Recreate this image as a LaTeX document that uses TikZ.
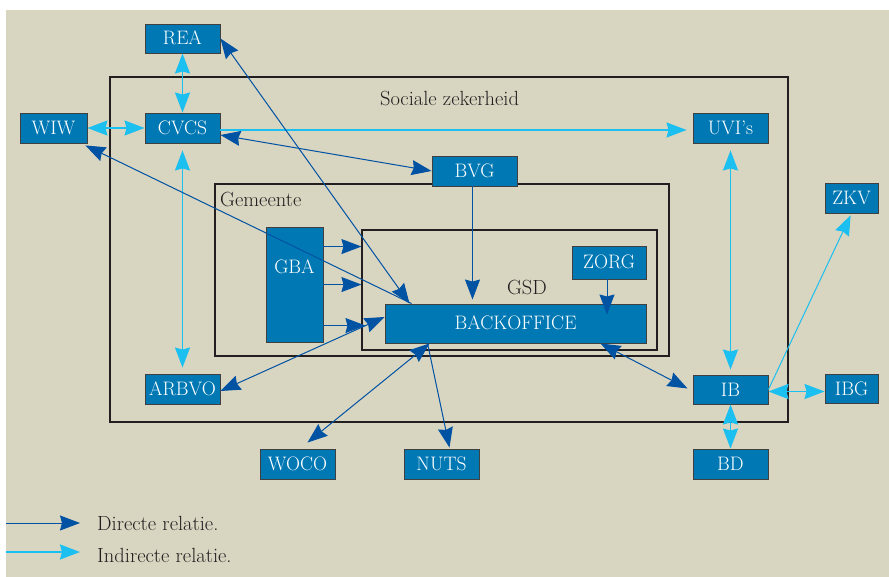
\documentclass[tikz,border=0pt]{standalone}
\usetikzlibrary{arrows.meta,calc}
\definecolor{bg}{HTML}{D8D5C1}
\definecolor{boxfill}{HTML}{0078B4}
\definecolor{dk}{HTML}{0052A3}
\definecolor{lt}{HTML}{1BBFF0}
\definecolor{txt}{HTML}{231F20}
\begin{document}
\begin{tikzpicture}[x=1pt,y=-1pt,
  >={Stealth[length=20pt,width=15pt,inset=2pt]},
  bx/.style={draw=black!75,line width=0.9pt,fill=boxfill,text=white,inner sep=0pt,
    font=\fontsize{19.5}{19.5}\selectfont,text height=13pt,text depth=0pt},
  frm/.style={draw=txt,line width=1.1pt,inner sep=0pt},
  lbl/.style={font=\fontsize{20.5}{20.5}\selectfont,text=txt,inner sep=0pt},
  dir/.style={draw=dk,line width=1pt},
  ind/.style={draw=lt,line width=1.6pt}]
\useasboundingbox (0,0) rectangle (889,577);
\fill[white] (0,0) rectangle (889,577);
\fill[bg] (6,10) rectangle (889,577);
% frames
\node[frm,minimum width=678pt,minimum height=345pt] (szf) at (449,249.5) {};
\node[frm,minimum width=454pt,minimum height=172pt] (gemf) at (442,270) {};
\node[frm,minimum width=295pt,minimum height=120pt] (gsdf) at (509.5,290) {};
\node[lbl,anchor=base] (szl) at (449.5,106) {Sociale zekerheid};
\node[lbl,anchor=base west] (geml) at (220,207) {Gemeente};
\node[lbl,anchor=base] (gsdl) at (527,295) {GSD};
% boxes
\node[bx,minimum width=75pt,minimum height=29pt] (rea) at (182.5,38.5) {REA};
\node[bx,minimum width=67pt,minimum height=30pt] (wiw) at (53.5,128) {WIW};
\node[bx,minimum width=75pt,minimum height=30pt] (cvcs) at (182.5,128) {CVCS};
\node[bx,minimum width=75pt,minimum height=30pt] (uvi) at (730.5,128) {UVI's};
\node[bx,minimum width=85pt,minimum height=30pt] (bvg) at (474.5,171) {BVG};
\node[bx,minimum width=53pt,minimum height=30pt] (zkv) at (851.5,198) {ZKV};
\node[bx,minimum width=57pt,minimum height=115pt] (gba) at (294.5,284.5) {};
\node[text=white,font=\fontsize{19.5}{19.5}\selectfont,inner sep=0pt,text height=13pt,text depth=0pt] (gbat) at (294.5,267) {GBA};
\node[bx,minimum width=74pt,minimum height=33pt] (zorg) at (609,262.5) {ZORG};
\node[bx,minimum width=261pt,minimum height=39pt] (bo) at (515.5,323.5) {BACKOFFICE};
\node[bx,minimum width=75pt,minimum height=30pt] (arbvo) at (182.5,389) {ARBVO};
\node[bx,minimum width=75pt,minimum height=29pt] (ib) at (730.5,389.5) {IB};
\node[bx,minimum width=53pt,minimum height=29pt] (ibg) at (851.5,388.5) {IBG};
\node[bx,minimum width=75pt,minimum height=30pt] (bd) at (730.5,464) {BD};
\node[bx,minimum width=75pt,minimum height=30pt] (woco) at (297.5,464) {WOCO};
\node[bx,minimum width=75pt,minimum height=30pt] (nuts) at (441.5,464) {NUTS};
% indirect relations
\draw[ind,<->] (rea.south) -- (cvcs.north);
\draw[ind,<->] (wiw.east) -- (cvcs.west);
\draw[ind,<->,shorten <=7pt,shorten >=6pt] (cvcs.south) -- (arbvo.north);
\coordinate (c1) at ($(cvcs.east)+(0,2)$);
\draw[ind,->,shorten >=6pt] (c1) -- (c1 -| uvi.west);
\draw[ind,<->,shorten <=7pt,shorten >=5pt] (uvi.south) -- (ib.north);
\draw[ind,->,line width=1pt,shorten >=2pt] (ib.east) -- (zkv.south);
\coordinate (i1) at ($(ib.east)+(0,2)$);
\draw[ind,<->] (i1) -- (i1 -| ibg.west);
\draw[ind,<->] (ib.south) -- (bd.north);
% direct relations
\draw[dir,<->] (rea.east) -- ($(bo.north west)+(25,0)$);
\draw[dir,->] ($(bo.north west)+(27,0)$) -- ($(wiw.south east)+(-2,2)$);
\draw[dir,<->] ($(cvcs.east)+(0,7)$) -- (bvg.west);
\coordinate (b1) at ($(bvg.south)+(-2,0)$);
\draw[dir,->,shorten >=4pt] (b1) -- (b1 |- bo.north);
\coordinate (z1) at ($(zorg.south)+(-2,0)$);
\draw[dir,->,shorten >=9pt] (z1) -- (z1 |- bo.center);
\coordinate (g1) at ($(gba.north east)+(0,20)$);
\coordinate (g2) at ($(gba.north east)+(0,58)$);
\coordinate (g3) at ($(gba.north east)+(0,99)$);
\draw[dir,->] (g1) -- (g1 -| gsdf.west);
\draw[dir,->] (g2) -- (g2 -| gsdf.west);
\draw[dir,->,shorten >=-4pt] (g3) -- (g3 -| gsdf.west);
\draw[dir,<->] ($(arbvo.east)+(0,2)$) -- ($(bo.west)+(0,-6.5)$);
\draw[dir,<->] ($(bo.south west)+(45,0)$) -- ($(woco.north)+(10,-6)$);
\draw[dir,->] ($(bo.south west)+(43,0)$) -- ($(nuts.north)+(8,-1)$);
\draw[dir,<->] ($(bo.south east)+(-46,0)$) -- ($(ib.west)+(-5,-1)$);
% legend
\node[lbl,anchor=base west] (l1t) at (97,530) {Directe relatie.};
\node[lbl,anchor=base west] (l2t) at (97,562) {Indirecte relatie.};
\coordinate (l1a) at (6,523);
\coordinate (l2a) at (6,552);
\draw[dir,->,shorten >=17pt] (l1a) -- (l1a -| l1t.west);
\draw[ind,->,shorten >=17pt] (l2a) -- (l2a -| l2t.west);
\end{tikzpicture}
\end{document}
